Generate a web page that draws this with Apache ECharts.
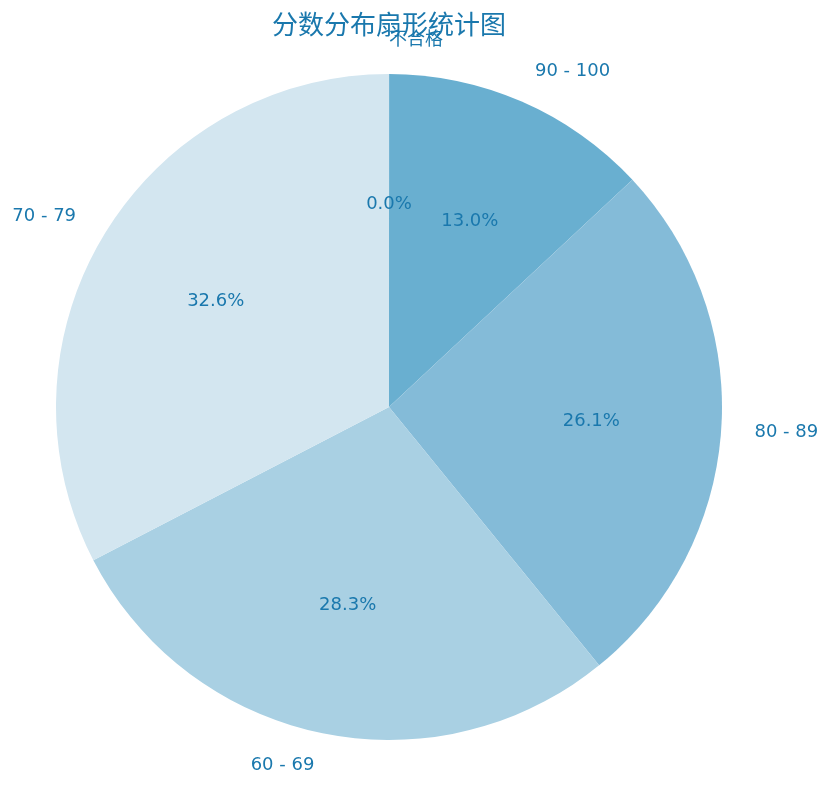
<!DOCTYPE html>
<html lang="zh-CN">
<head>
  <meta charset="UTF-8" />
  <title>分数分布扇形统计图</title>
  <script src="https://cdn.jsdelivr.net/npm/echarts@6.0.0/dist/echarts.min.js"></script>
  <style>
    * { margin: 0; padding: 0; box-sizing: border-box; }
    html, body { width: 832px; height: 786px; background: #fff; overflow: hidden; }
    #chart { width: 832px; height: 786px; }
  </style>
</head>
<body>
  <div id="chart"></div>
  <script>
    // 数据
    const categories = ['不合格', '90 - 100', '80 - 89', '60 - 69', '70 - 79'];
    const counts = [0, 6, 12, 13, 15];
    const colors = ['#4f9fc7', '#69afd0', '#84bbd8', '#a9d0e3', '#d3e6f0'];

    const textColor = '#1a78ad';
    const latin = '"DejaVu Sans", sans-serif';
    const R = 333;

    const data = categories.map((name, i) => ({
      name, value: counts[i], itemStyle: { color: colors[i] }
    }));

    const chart = echarts.init(document.getElementById('chart'));
    chart.setOption({
      animation: false,
      title: {
        text: '分数分布扇形统计图',
        left: 267, top: 6,
        textStyle: { color: textColor, fontSize: 26, fontWeight: 'normal', fontFamily: '"Noto Sans CJK SC", sans-serif' }
      },
      series: [
        {
          // 扇区 + 外侧类别标签
          type: 'pie',
          center: [389, 407],
          radius: [0, R],
          startAngle: 89.99,
          clockwise: true,
          avoidLabelOverlap: false,
          silent: true,
          data,
          itemStyle: { borderWidth: 0 },
          label: {
            show: true,
            position: 'outside',
            formatter: '{b}',
            distanceToLabelLine: 0,
            color: textColor,
            fontSize: 18,
            fontFamily: '"DejaVu Sans", "Noto Sans CJK SC", sans-serif'
          },
          labelLine: { show: false, length: R * 0.1, length2: 0 }
        },
        {
          // 百分比标签（0.6R 处）
          type: 'pie',
          center: [389, 407],
          radius: [R * 0.2, R],
          startAngle: 89.99,
          clockwise: true,
          silent: true,
          data: categories.map((name, i) => ({ name, value: counts[i] })),
          itemStyle: { color: 'rgba(0,0,0,0)', borderWidth: 0 },
          label: {
            show: true,
            position: 'inside',
            formatter: p => p.percent.toFixed(1) + '%',
            color: textColor,
            fontSize: 18,
            fontFamily: latin
          },
          labelLine: { show: false }
        }
      ]
    });
  </script>
</body>
</html>
